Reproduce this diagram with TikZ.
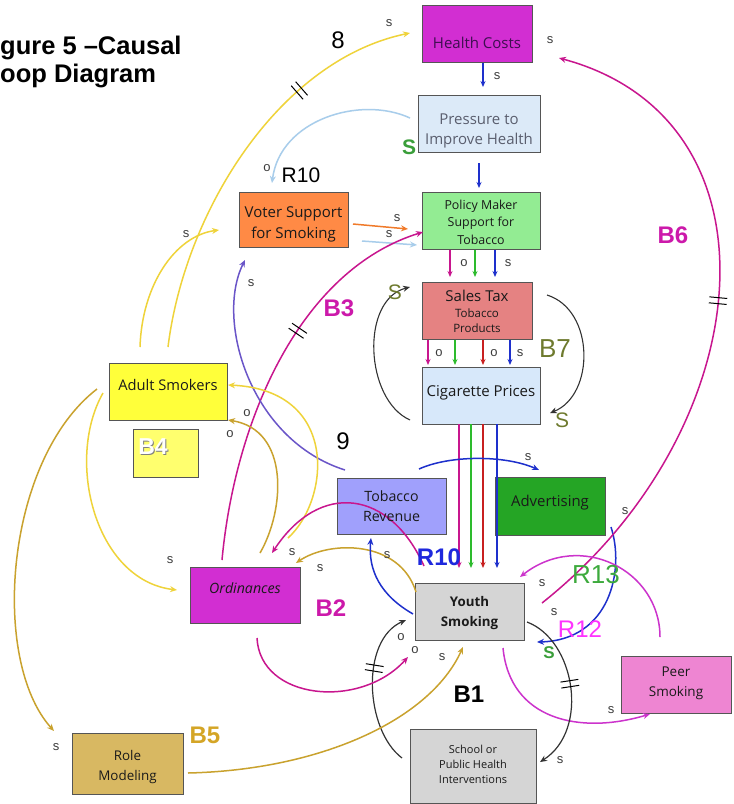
\documentclass[tikz,border=0pt]{standalone}
\usepackage{fontspec}
\setmainfont{Liberation Sans}
\newfontfamily\boxfont{Open Sans}
\usetikzlibrary{arrows.meta,decorations.markings}
\definecolor{chc}{HTML}{D22ED2}
\definecolor{cpres}{HTML}{DCEAF8}
\definecolor{cpol}{HTML}{93EC93}
\definecolor{cvot}{HTML}{FF8A45}
\definecolor{csal}{HTML}{E58282}
\definecolor{ccig}{HTML}{D7E8FA}
\definecolor{cadu}{HTML}{FFFF3A}
\definecolor{cbfour}{HTML}{FFFF6E}
\definecolor{ctob}{HTML}{A0A0FC}
\definecolor{cadv}{HTML}{25A525}
\definecolor{cord}{HTML}{D22ED2}
\definecolor{cyou}{HTML}{D5D5D5}
\definecolor{cpeer}{HTML}{EE85D2}
\definecolor{crole}{HTML}{D8B862}
\definecolor{csch}{HTML}{D5D5D5}
\definecolor{boxline}{HTML}{555555}
\definecolor{txtc}{HTML}{1A1A1A}
\definecolor{hctxt}{HTML}{3D0F50}
\definecolor{prtxt}{HTML}{5A5E6E}
\definecolor{cyel}{HTML}{EFD33A}
\definecolor{cgold}{HTML}{C9A22E}
\definecolor{cmagA}{HTML}{C8168E}
\definecolor{cmagB}{HTML}{CC33CC}
\definecolor{cpurple}{HTML}{6A55C8}
\definecolor{cblue}{HTML}{1E30CC}
\definecolor{clblue}{HTML}{A8CDEB}
\definecolor{corange}{HTML}{F07A2A}
\definecolor{cgreen}{HTML}{2DBB2D}
\definecolor{cred}{HTML}{C82020}
\definecolor{cdark}{HTML}{333333}
\definecolor{slc}{HTML}{3C3C3C}
\definecolor{lmag}{HTML}{CC19AA}
\definecolor{lpink}{HTML}{FF33FF}
\definecolor{lgreen}{HTML}{3DAA3D}
\definecolor{lsgreen}{HTML}{3A9E3A}
\definecolor{lolive}{HTML}{6E7A2E}
\definecolor{lgold}{HTML}{D4A526}
\definecolor{lblue}{HTML}{1E28DD}
\begin{document}
\begin{tikzpicture}[x=1pt,y=-1pt,
  box/.style={draw=boxline,line width=0.8pt,inner sep=0pt},
  btxt/.style={inner sep=0pt,align=center,text=txtc},
  sl/.style={inner sep=0pt,font=\fontsize{13}{13}\selectfont,text=slc},
  lab/.style={inner sep=0pt},
  arr/.style={line width=1.5pt,-{Stealth[length=7pt,width=6pt]}},
  vline/.style={line width=1.2pt,-{Stealth[length=6pt,width=5pt]}},
  dtick/.style={postaction={decorate,decoration={markings,mark=at position #1 with {\draw[black,line width=1pt,solid,-] (-3,-9)--(-3,9) (3,-9)--(3,9);}}}}
]
\useasboundingbox (0,0) rectangle (734,804);
\fill[white] (0,0) rectangle (734,804);

% title
\node[anchor=base west,inner sep=0pt,font=\bfseries\fontsize{25.5}{25.5}\selectfont] (t1) at (0,54) {gure 5 –Causal};
\node[anchor=base west,inner sep=0pt,font=\bfseries\fontsize{25.5}{25.5}\selectfont] (t2) at (0,82) {oop Diagram};

% boxes
\node[box,fill=chc,minimum width=110pt,minimum height=57pt] (hc) at (477,33.5) {};
\node[box,fill=cpres,minimum width=122pt,minimum height=57pt] (pr) at (479,123.5) {};
\node[box,fill=cpol,minimum width=118pt,minimum height=57pt] (pm) at (481,220.5) {};
\node[box,fill=cvot,minimum width=109pt,minimum height=55pt] (vs) at (293.5,219.5) {};
\node[box,fill=csal,minimum width=110pt,minimum height=57pt] (st) at (477,310.5) {};
\node[box,fill=ccig,minimum width=118pt,minimum height=57pt] (cp) at (481,395.5) {};
\node[box,fill=cadu,minimum width=118pt,minimum height=57pt] (as) at (168,391.5) {};
\node[box,fill=cbfour,minimum width=65pt,minimum height=48pt] (b4) at (165.5,453) {};
\node[box,fill=ctob,minimum width=109pt,minimum height=56pt] (tr) at (391.5,506) {};
\node[box,fill=cadv,minimum width=110pt,minimum height=58pt] (ad) at (550,506) {};
\node[box,fill=cord,minimum width=110pt,minimum height=56pt] (or) at (245,595) {};
\node[box,fill=cyou,minimum width=109pt,minimum height=57pt] (ys) at (469.5,611.5) {};
\node[box,fill=cpeer,minimum width=110pt,minimum height=57pt] (ps) at (676,684.5) {};
\node[box,fill=crole,minimum width=111pt,minimum height=61pt] (rm) at (127.5,763.5) {};
\node[box,fill=csch,minimum width=126pt,minimum height=74pt] (sc) at (473,766) {};

% arrows
\draw[arr,cyel] ([shift={(-28,-44.5)}]as.center) .. controls (142,285) and (175,236) .. ([shift={(-74.5,10.5)}]vs.center);
\draw[arr,cyel,dtick=0.7] ([shift={(0,-44.5)}]as.center) .. controls (185,210) and (280,60) .. ([shift={(-67,-0.5)}]hc.center);
\draw[arr,clblue] ([shift={(-69,-5.5)}]pr.center) .. controls (360,95) and (280,120) .. ([shift={(-21.5,-36.5)}]vs.center);
\draw[arr,corange] ([shift={(59.5,4.5)}]vs.center) -- ([shift={(-73,8.5)}]pm.center);
\draw[arr,clblue] ([shift={(68.5,21.5)}]vs.center) -- ([shift={(-64,24.5)}]pm.center);
\draw[arr,cmagA,dtick=0.6] ([shift={(-23,-35)}]or.center) .. controls (235,420) and (300,270) .. ([shift={(-58,11.5)}]pm.center);
\draw[arr,cpurple] ([shift={(-46.5,-36)}]tr.center) .. controls (250,440) and (215,320) .. ([shift={(-48.5,40.5)}]vs.center);

\draw[vline,cblue] ([shift={(6,29.5)}]hc.center) -- ([shift={(4,-36.5)}]pr.center);
\draw[vline,cblue] ([shift={(0,39.5)}]pr.center) -- ([shift={(-2,-32.5)}]pm.center);

\draw[vline,cmagA] ([shift={(-31,29.5)}]pm.center) -- ([shift={(-27,-33.5)}]st.center);
\draw[vline,cgreen] ([shift={(-6,29.5)}]pm.center) -- ([shift={(-2,-33.5)}]st.center);
\draw[vline,cblue] ([shift={(14,29.5)}]pm.center) -- ([shift={(18,-33.5)}]st.center);

\draw[vline,cmagA] ([shift={(-49,29.5)}]st.center) -- ([shift={(-53,-30.5)}]cp.center);
\draw[vline,cgreen] ([shift={(-22,29.5)}]st.center) -- ([shift={(-26,-30.5)}]cp.center);
\draw[vline,cred] ([shift={(6,29.5)}]st.center) -- ([shift={(2,-30.5)}]cp.center);
\draw[vline,cblue] ([shift={(33,29.5)}]st.center) -- ([shift={(29,-30.5)}]cp.center);

\draw[vline,cmagA] ([shift={(-22,28.5)}]cp.center) -- ([shift={(-10.5,-43.5)}]ys.center);
\draw[vline,cgreen] ([shift={(-10,28.5)}]cp.center) -- ([shift={(1.5,-43.5)}]ys.center);
\draw[vline,cred] ([shift={(2,28.5)}]cp.center) -- ([shift={(13.5,-43.5)}]ys.center);
\draw[vline,cblue] ([shift={(16,28.5)}]cp.center) -- ([shift={(27.5,-43.5)}]ys.center);

\draw[arr,cdark,line width=1.1pt] ([shift={(-71,24.5)}]cp.center) .. controls (365,400) and (360,300) .. ([shift={(-67,-23.5)}]st.center);
\draw[arr,cdark,line width=1.1pt] ([shift={(70,-15.5)}]st.center) .. controls (595,310) and (595,395) .. ([shift={(69,17.5)}]cp.center);

\draw[arr,cblue] ([shift={(27.5,-37)}]tr.center) .. controls (450,455) and (505,455) .. ([shift={(-11,-36)}]ad.center);
\draw[arr,cblue] ([shift={(61,21)}]ad.center) .. controls (625,570) and (610,640) .. ([shift={(67.5,30.5)}]ys.center);
\draw[arr,cmagA,dtick=0.53] ([shift={(72.5,-8.5)}]ys.center) .. controls (760,430) and (790,120) .. ([shift={(82,24.5)}]hc.center);
\draw[arr,cmagB] ([shift={(-16,-47.5)}]ps.center) .. controls (660,570) and (580,530) .. ([shift={(50.5,-34.5)}]ys.center);
\draw[arr,cmagB] ([shift={(33.5,36.5)}]ys.center) .. controls (510,720) and (580,735) .. ([shift={(-26,29.5)}]ps.center);
\draw[arr,cdark,line width=1.2pt,dtick=0.47] ([shift={(57.5,10.5)}]ys.center) .. controls (575,640) and (590,730) .. ([shift={(67,-4)}]sc.center);
\draw[arr,cdark,line width=1.2pt,dtick=0.62] ([shift={(-71,-8)}]sc.center) .. controls (365,730) and (360,640) .. ([shift={(-63.5,8.5)}]ys.center);
\draw[arr,cmagA] ([shift={(12,43)}]or.center) .. controls (260,700) and (360,710) .. ([shift={(-61.5,45.5)}]ys.center);
\draw[arr,cgold] ([shift={(60.5,9.5)}]rm.center) .. controls (320,770) and (430,720) .. ([shift={(-6.5,35.5)}]ys.center);
\draw[arr,cgold] ([shift={(-71,-2.5)}]as.center) .. controls (5,460) and (-10,660) .. ([shift={(-73.5,-32.5)}]rm.center);
\draw[arr,cyel] ([shift={(-65,1.5)}]as.center) .. controls (65,460) and (95,580) .. ([shift={(-68,-5)}]or.center);
\draw[arr,cgold] ([shift={(15,-42)}]or.center) .. controls (285,510) and (290,430) .. ([shift={(60,28.5)}]as.center);
\draw[arr,cyel] ([shift={(43,-57)}]or.center) .. controls (330,500) and (340,390) .. ([shift={(60,-6.5)}]as.center);
\draw[arr,cmagA] ([shift={(-45.5,-45.5)}]ys.center) .. controls (390,490) and (320,480) .. ([shift={(27,-42)}]or.center);
\draw[arr,cgold] ([shift={(-53.5,-19.5)}]ys.center) .. controls (400,540) and (330,540) .. ([shift={(51,-32)}]or.center);
\draw[arr,cblue] ([shift={(-56.5,2.5)}]ys.center) .. controls (380,595) and (368,570) .. ([shift={(-20.5,32)}]tr.center);

% box texts
\node[btxt,text=hctxt,font=\boxfont\fontsize{15}{18}\selectfont] (hct) at (477,43) {Health Costs};
\node[btxt,text=prtxt,font=\boxfont\fontsize{15}{20}\selectfont] (prt) at (479,131) {Pressure to\\Improve Health};
\node[btxt,font=\boxfont\fontsize{12.4}{17.5}\selectfont] (pmt) at (481,222) {Policy Maker\\Support for\\Tobacco};
\node[btxt,font=\boxfont\fontsize{15}{21}\selectfont] (vst) at (293.5,224) {Voter Support\\for Smoking};
\node[btxt,font=\boxfont\fontsize{15}{18}\selectfont] (stt) at (477,296) {Sales Tax};
\node[btxt,font=\boxfont\fontsize{11.5}{15}\selectfont] (stu) at (477,320.5) {Tobacco\\Products};
\node[btxt,font=\boxfont\fontsize{15}{18}\selectfont] (cpt) at (481,393) {Cigarette Prices};
\node[btxt,font=\boxfont\fontsize{14.7}{18}\selectfont] (ast) at (168,385) {Adult Smokers};
\node[lab,text=gray,font=\bfseries\fontsize{23}{23}\selectfont] (b4s) at (154,448) {B4};
\node[lab,text=white,font=\bfseries\fontsize{23}{23}\selectfont] (b4t) at (153,446.5) {B4};
\node[btxt,font=\boxfont\fontsize{14.2}{20}\selectfont] (trt) at (391.5,506) {Tobacco\\Revenue};
\node[btxt,font=\boxfont\fontsize{14.9}{18}\selectfont] (adt) at (550,503) {Advertising};
\node[btxt,font=\boxfont\itshape\fontsize{14.2}{18}\selectfont] (ort) at (245,588) {Ordinances};
\node[btxt,font=\boxfont\bfseries\fontsize{13.3}{20}\selectfont] (yst) at (469.5,613) {Youth\\Smoking};
\node[btxt,font=\boxfont\fontsize{13.5}{20}\selectfont] (pst) at (676,683) {Peer\\Smoking};
\node[btxt,font=\boxfont\fontsize{13.4}{20}\selectfont] (rmt) at (127.5,767) {Role\\Modeling};
\node[btxt,font=\boxfont\fontsize{11}{15}\selectfont] (sct) at (473,764) {School or\\Public Health\\Interventions};

% loop labels
\node[lab,font=\fontsize{24}{24}\selectfont] (n8) at (338,40) {8};
\node[lab,font=\fontsize{24}{24}\selectfont] (n9) at (343,441) {9};
\node[lab,font=\fontsize{21}{21}\selectfont] (r10a) at (301,175) {R10};
\node[lab,text=lmag,font=\bfseries\fontsize{24}{24}\selectfont] (lb6) at (673,235) {B6};
\node[lab,text=lmag,font=\bfseries\fontsize{24}{24}\selectfont] (lb3) at (339,308) {B3};
\node[lab,text=lmag,font=\bfseries\fontsize{24}{24}\selectfont] (lb2) at (331,608) {B2};
\node[lab,text=black,font=\bfseries\fontsize{24}{24}\selectfont] (lb1) at (469,694) {B1};
\node[lab,text=lgold,font=\bfseries\fontsize{24}{24}\selectfont] (lb5) at (205,735) {B5};
\node[lab,text=lolive,font=\fontsize{26}{26}\selectfont] (lb7) at (555,349) {B7};
\node[lab,text=lolive,font=\fontsize{21}{21}\selectfont] (sola) at (395,292) {S};
\node[lab,text=lolive,font=\fontsize{21}{21}\selectfont] (solb) at (562,420) {S};
\node[lab,text=lsgreen,font=\bfseries\fontsize{21}{21}\selectfont] (sgra) at (409,147) {S};
\node[lab,text=lsgreen,font=\bfseries\fontsize{17}{17}\selectfont] (sgrb) at (549,653) {S};
\node[lab,text=lblue,font=\bfseries\fontsize{24}{24}\selectfont] (r10b) at (439,557) {R10};
\node[lab,text=lgreen,font=\fontsize{26}{26}\selectfont] (r13) at (596,575) {R13};
\node[lab,text=lpink,font=\fontsize{24}{24}\selectfont] (r12) at (580,629) {R12};

% small polarity labels
\node[sl] (o1) at (267,168) {o};
\node[sl] (s1) at (389,23) {s};
\node[sl] (s2) at (550,40) {s};
\node[sl] (s3) at (497,76) {s};
\node[sl] (s4) at (186,234) {s};
\node[sl] (s5) at (397,218) {s};
\node[sl] (s6) at (389,234) {s};
\node[sl] (o2) at (464,263) {o};
\node[sl] (s7) at (508,263) {s};
\node[sl] (s8) at (251,283) {s};
\node[sl] (o3) at (439,353) {o};
\node[sl] (o4) at (494,353) {o};
\node[sl] (s9) at (520,353) {s};
\node[sl] (o5) at (247,413) {o};
\node[sl] (o6) at (230,434) {o};
\node[sl] (s10) at (528,457) {s};
\node[sl] (s11) at (625,511) {s};
\node[sl] (s12) at (170,560) {s};
\node[sl] (s13) at (292,552) {s};
\node[sl] (s14) at (320,568) {s};
\node[sl] (s15) at (387,555) {s};
\node[sl] (s16) at (542,583) {s};
\node[sl] (s17) at (554,612) {s};
\node[sl] (o7) at (401,637) {o};
\node[sl] (o8) at (415,650) {o};
\node[sl] (s18) at (442,657) {s};
\node[sl] (s19) at (611,710) {s};
\node[sl] (s20) at (560,760) {s};
\node[sl] (s21) at (56,747) {s};
\end{tikzpicture}
\end{document}
